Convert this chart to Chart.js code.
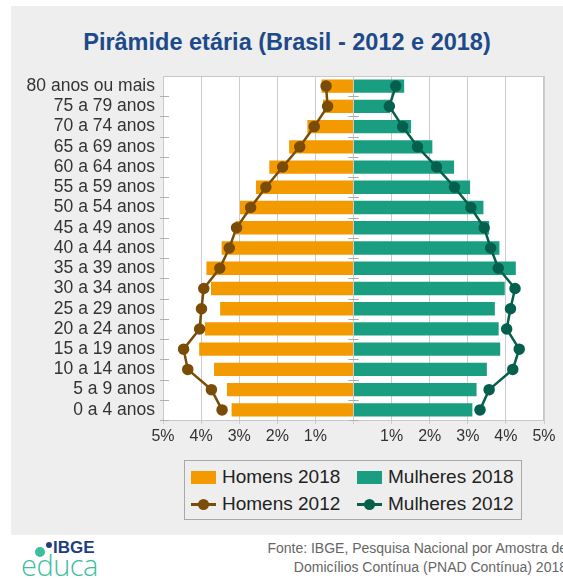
<!DOCTYPE html>
<html>
<head>
<meta charset="utf-8">
<script src="https://cdn.jsdelivr.net/npm/chart.js@4/dist/chart.umd.min.js"></script>
<style>
  html,body{margin:0;padding:0;background:#fff;width:563px;height:579px;overflow:hidden;font-family:"Liberation Sans",Arial,sans-serif;}
  #panel{position:absolute;left:11px;top:6px;width:552px;height:529px;background:#eeeeee;}
  #title{position:absolute;left:11px;width:552px;top:27px;text-align:center;font-weight:bold;font-size:23.5px;color:#1d4a8a;line-height:30px;}
  #wrap{position:absolute;left:0;top:0;width:563px;height:450px;}
  #legend{position:absolute;left:184px;top:460px;width:336px;height:58px;border:1px solid #a8a8a8;background:#eeeeee;}
  .item{position:absolute;font-size:19px;color:#222;line-height:22px;white-space:nowrap;}
  .sw{position:absolute;}
  #fonte{position:absolute;right:-4px;top:539px;text-align:right;font-size:14px;line-height:19px;color:#666;white-space:nowrap;}
  #logo1{position:absolute;left:53px;top:539px;font-weight:bold;font-size:17px;color:#1f3f7f;line-height:18px;letter-spacing:0px;}
  #logo2{position:absolute;left:21px;top:551px;font-size:29px;color:#3dbf9e;line-height:28px;font-family:"Open Sans",sans-serif;font-weight:300;letter-spacing:-0.5px;}
  .dot{position:absolute;border-radius:50%;}
</style>
</head>
<body>
<div id="panel"></div>
<div id="title">Pirâmide etária (Brasil - 2012 e 2018)</div>
<div id="wrap"><canvas id="c"></canvas></div>
<div id="legend"></div>
<div class="dot" style="left:35px;top:547px;width:10px;height:10px;background:#3dbf9e;"></div>
<div class="dot" style="left:46px;top:542px;width:6px;height:6px;background:#1f3f7f;"></div>
<div id="logo1">IBGE</div>
<div id="logo2">educa</div>
<div id="fonte">Fonte: IBGE, Pesquisa Nacional por Amostra de<br>Domicílios Contínua (PNAD Contínua) 2018</div>
<script>
const categories = ['80 anos ou mais','75 a 79 anos','70 a 74 anos','65 a 69 anos','60 a 64 anos','55 a 59 anos','50 a 54 anos','45 a 49 anos','40 a 44 anos','35 a 39 anos','30 a 34 anos','25 a 29 anos','20 a 24 anos','15 a 19 anos','10 a 14 anos','5 a 9 anos','0 a 4 anos'];
const homens2018   = [0.84,0.80,1.21,1.69,2.21,2.56,2.98,3.09,3.46,3.86,3.74,3.50,3.90,4.05,3.66,3.32,3.20];
const mulheres2018 = [1.33,0.96,1.51,2.07,2.64,3.06,3.41,3.56,3.83,4.26,3.97,3.71,3.81,3.85,3.50,3.23,3.12];
const homens2012   = [0.72,0.68,1.03,1.41,1.86,2.30,2.70,3.07,3.26,3.51,3.93,3.99,4.04,4.46,4.35,3.73,3.45];
const mulheres2012 = [1.11,0.94,1.29,1.68,2.18,2.65,3.08,3.43,3.60,3.80,4.24,4.12,4.02,4.35,4.18,3.56,3.32];
const xTicks = [-5,-4,-3,-2,-1,0,1,2,3,4,5];
const seriesNames = ['Homens 2018','Mulheres 2018','Homens 2012','Mulheres 2012'];

const cOrange = '#f29a00', cTeal = '#1a9e82', cBrown = '#7b4c08', cGreen = '#04604c';

const framePlugin = {
  id:'frame',
  beforeDatasetsDraw(chart){
    const {ctx, chartArea:a, scales} = chart;
    ctx.save();
    ctx.strokeStyle = '#c8c8c8'; ctx.lineWidth = 1;
    ctx.strokeRect(a.left+0.5, a.top+0.5, a.right-a.left-1, a.bottom-a.top);
    const y = scales.y; const x0 = scales.x.getPixelForValue(0);
    const step = y.getPixelForValue(1)-y.getPixelForValue(0);
    ctx.strokeStyle = '#b0b0b0';
    for (let i=0;i<categories.length;i++){
      const py = Math.round(y.getPixelForValue(i)+step/2)+0.5;
      ctx.beginPath();
      ctx.moveTo(a.left-3, py); ctx.lineTo(a.left+6, py);
      ctx.moveTo(x0-5, py); ctx.lineTo(x0+5, py);
      ctx.stroke();
    }
    ctx.restore();
  },
  afterDatasetsDraw(chart){
    const {ctx, scales} = chart;
    const y = scales.y; const x0 = scales.x.getPixelForValue(0);
    ctx.save();
    ctx.strokeStyle = 'rgba(170,170,170,0.8)'; ctx.lineWidth = 1;
    for (let i=1;i<categories.length;i++){
      const py = Math.round((y.getPixelForValue(i-1)+y.getPixelForValue(i))/2)+0.5;
      ctx.beginPath();
      ctx.moveTo(x0-5, py); ctx.lineTo(x0+5, py);
      ctx.stroke();
    }
    ctx.restore();
  }
};
const bgPlugin = {
  id:'bg',
  beforeDraw(chart){
    const {ctx, chartArea:a} = chart;
    ctx.save(); ctx.fillStyle = '#ffffff';
    ctx.fillRect(a.left, a.top, a.right-a.left, a.bottom-a.top);
    ctx.restore();
  }
};

new Chart(document.getElementById('c'), {
  data: {
    labels: categories,
    datasets: [
      {type:'line', label: seriesNames[2], data: homens2012.map(v=>-v), borderColor:cBrown, backgroundColor:cBrown, pointBackgroundColor:cBrown, pointBorderColor:cBrown, borderWidth:2.5, pointRadius:4.5, order:0},
      {type:'line', label: seriesNames[3], data: mulheres2012, borderColor:cGreen, backgroundColor:cGreen, pointBackgroundColor:cGreen, pointBorderColor:cGreen, borderWidth:2.5, pointRadius:4.5, order:0},
      {type:'bar', label: seriesNames[0], data: homens2018.map(v=>-v), backgroundColor:cOrange, grouped:false, barPercentage:0.66, categoryPercentage:1, order:1},
      {type:'bar', label: seriesNames[1], data: mulheres2018, backgroundColor:cTeal, grouped:false, barPercentage:0.66, categoryPercentage:1, order:1}
    ]
  },
  options: {
    indexAxis:'y',
    responsive:true, maintainAspectRatio:false, animation:false,
    layout:{padding:{top:76,right:19,left:0,bottom:0}},
    plugins:{legend:{display:false}, tooltip:{enabled:false}, title:{display:false}},
    scales:{
      x:{type:'linear', min:-5, max:5,
        afterBuildTicks(s){ s.ticks = xTicks.map(v=>({value:v})); },
        afterFit(s){ s.height = 30; },
        ticks:{callback:v=> v===0 ? '' : Math.abs(v)+'%', color:'#333', font:{family:'"Liberation Sans", Arial, sans-serif', size:16}, padding:3, maxRotation:0, autoSkip:false},
        grid:{color:'#cccccc', lineWidth:1, tickLength:4, drawTicks:true},
        border:{display:false}
      },
      y:{type:'category', offset:true,
        afterFit(s){ s.width = 163; },
        ticks:{color:'#333', font:{family:'"Liberation Sans", Arial, sans-serif', size:17.5}, padding:8, autoSkip:false},
        grid:{display:false, drawTicks:false},
        border:{display:false}
      }
    }
  },
  plugins:[bgPlugin, framePlugin]
});

const lg = document.getElementById('legend');
const legItems = [
  {name:seriesNames[0], kind:'bar', color:cOrange, x:6, y:10},
  {name:seriesNames[1], kind:'bar', color:cTeal, x:172, y:10},
  {name:seriesNames[2], kind:'line', color:cBrown, x:6, y:37},
  {name:seriesNames[3], kind:'line', color:cGreen, x:172, y:37}
];
legItems.forEach(it=>{
  if (it.kind==='bar'){
    const s = document.createElement('div'); s.className='sw';
    s.style.cssText = `left:${it.x}px;top:${it.y}px;width:25px;height:13px;background:${it.color};`;
    lg.appendChild(s);
  } else {
    const l = document.createElement('div'); l.className='sw';
    l.style.cssText = `left:${it.x}px;top:${it.y+5}px;width:25px;height:3px;background:${it.color};`;
    lg.appendChild(l);
    const d = document.createElement('div'); d.className='sw';
    d.style.cssText = `left:${it.x+7}px;top:${it.y+1}px;width:11px;height:11px;border-radius:50%;background:${it.color};`;
    lg.appendChild(d);
  }
  const t = document.createElement('div'); t.className='item';
  t.style.left = (it.x+31)+'px'; t.style.top = (it.y-5)+'px';
  t.textContent = it.name;
  lg.appendChild(t);
});
</script>
</body>
</html>
